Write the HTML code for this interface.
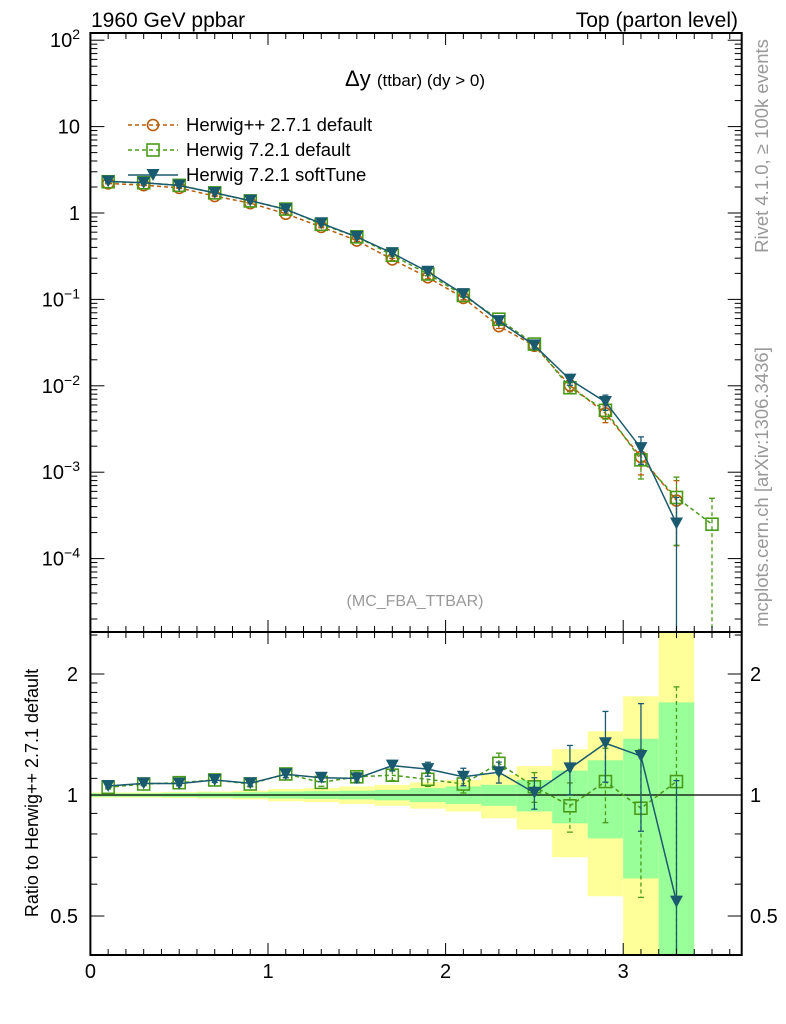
<!DOCTYPE html>
<html><head><meta charset="utf-8"><style>
html,body{margin:0;padding:0;background:#fff;}
svg{display:block;font-family:"Liberation Sans",sans-serif;}
</style></head><body>
<svg id="c" width="786" height="1024" viewBox="0 0 786 1024"></svg>
<script>
const binCenters=[0.1,0.3,0.5,0.7,0.9,1.1,1.3,1.5,1.7,1.9,2.1,2.3,2.5,2.7,2.9,3.1,3.3,3.5];
const refVals=[2.2,2.1,1.95,1.57,1.3,0.98,0.69,0.48,0.29,0.18,0.104,0.049,0.029,0.0101,0.0048,0.0015,0.00047,null];
const h7Vals=[2.30,2.24,2.09,1.71,1.38,1.11,0.74,0.53,0.325,0.197,0.111,0.059,0.0304,0.0095,0.0052,0.00139,0.00051,0.00025];
const stVals=[2.32,2.24,2.08,1.71,1.39,1.10,0.76,0.53,0.343,0.209,0.115,0.056,0.0294,0.0118,0.0065,0.0019,0.000255,null];
const h7Ratio=[1.045,1.065,1.073,1.09,1.065,1.128,1.075,1.11,1.12,1.094,1.065,1.199,1.048,0.94,1.08,0.927,1.08,null];
const stRatio=[1.053,1.069,1.067,1.09,1.07,1.126,1.104,1.10,1.183,1.16,1.11,1.139,1.013,1.165,1.345,1.25,0.543,null];
const refErr=[0.01,0.01,0.012,0.014,0.016,0.02,0.022,0.025,0.03,0.04,0.05,0.06,0.09,0.15,0.22,0.38,0.7,null];
const refErrOuter=[0.015,0.015,0.017,0.02,0.025,0.035,0.04,0.05,0.06,0.075,0.09,0.125,0.18,0.3,0.44,0.76,1.6,null];
const h7Err=[0.01,0.01,0.012,0.014,0.016,0.02,0.022,0.025,0.03,0.04,0.05,0.06,0.085,0.14,0.21,0.4,0.72,1.0];
const stErr=[0.01,0.01,0.012,0.014,0.016,0.02,0.022,0.025,0.03,0.04,0.05,0.06,0.09,0.14,0.2,0.35,1.0,null];
const mainTickLabels=[[2,"10","2"],[1,"10",""],[0,"1",""],[-1,"10","−1"],[-2,"10","−2"],[-3,"10","−3"],[-4,"10","−4"]];
const ratioTickLabels=["2","1","0.5"];
const ratioTickVals=[2,1,0.5];
const xTickLabels=["0","1","2","3"];

const NS="http://www.w3.org/2000/svg";
const svg=document.getElementById('c');
function el(t,a,p){const e=document.createElementNS(NS,t);for(const k in a)e.setAttribute(k,a[k]);(p||svg).appendChild(e);return e;}
const L=90.4,R=741.7,MT=33,MB=632,RT=632,RB=955;
const X0=90.4,XS=177.6;
const sx=v=>X0+v*XS;
const sy=v=>213-86.4*Math.log10(v);
const ry=v=>795-402*Math.log10(v);
const cH="#b85c0a",c7="#4a9a1a",cS="#1a5a6e";

const gBand=el('g',{});


binCenters.forEach((x,i)=>{
  if(refErr[i]==null)return;
  const x1=sx(x-0.1),x2=sx(x+0.1);
  const yo1=Math.max(RT,ry(1+refErrOuter[i])),yo2=Math.min(RB,ry(Math.max(1e-3,1-refErrOuter[i])));
  const b=el('rect',{x:x1,y:yo1,width:x2-x1,height:yo2-yo1,fill:"#ffff99"},gBand);
  
  
  const yi1=Math.max(RT,ry(1+refErr[i])),yi2=Math.min(RB,ry(Math.max(1e-3,1-refErr[i])));
  const g=el('rect',{x:x1,y:yi1,width:x2-x1,height:yi2-yi1,fill:"#99ff99"},gBand);
  
  
});
el('line',{x1:L,x2:R,y1:795,y2:795,stroke:"#000","stroke-width":1.3});

function marker(type,x,y,col,g){
  let m;
  if(type==='c')m=el('circle',{cx:x,cy:y,r:5.5,fill:"none",stroke:col,"stroke-width":1.6},g);
  else if(type==='s')m=el('rect',{x:x-6,y:y-6,width:12,height:12,fill:"none",stroke:col,"stroke-width":1.6},g);
  else m=el('path',{d:`M${x-6.5},${y-6} L${x+6.5},${y-6} L${x},${y+6} Z`,fill:col},g);
  
  
}
function series(vals,errs,yf,top,bot,col,dash,type,name){
  const g=el('g',{});
  
  
  const pts=[];
  binCenters.forEach((x,i)=>{
    const v=vals[i];if(v==null)return;
    const X=sx(x),Y=yf(v);pts.push([X,Y]);
    const e=errs[i];
    const yu=Math.max(top,yf(v*(1+e))),yl=(1-e)<=0.001?bot:Math.min(bot,yf(v*(1-e)));
    el('line',{x1:X,x2:X,y1:yu,y2:yl,stroke:col,"stroke-width":1.3,"stroke-dasharray":dash},g);
    el('line',{x1:X-3,x2:X+3,y1:yu,y2:yu,stroke:col,"stroke-width":1.3},g);
    if(yl<bot)el('line',{x1:X-3,x2:X+3,y1:yl,y2:yl,stroke:col,"stroke-width":1.3},g);
  });
  el('polyline',{points:pts.map(p=>p.join(',')).join(' '),fill:"none",stroke:col,"stroke-width":1.5,"stroke-dasharray":dash},g);
  pts.forEach(p=>marker(type,p[0],p[1],col,g));
}
series(refVals,refErr,sy,MT,MB,cH,"4,3",'c','herwigpp-series');
series(h7Vals,h7Err,sy,MT,MB,c7,"4,3",'s','herwig7-series');
series(stVals,stErr,sy,MT,MB,cS,"",'t','softtune-series');
series(h7Ratio,h7Err,ry,RT,RB,c7,"4,3",'s','herwig7-ratio');
series(stRatio,stErr,ry,RT,RB,cS,"",'t','softtune-ratio');

el('rect',{x:L,y:MT,width:R-L,height:MB-MT,fill:"none",stroke:"#000","stroke-width":2});
el('rect',{x:L,y:RT,width:R-L,height:RB-RT,fill:"none",stroke:"#000","stroke-width":2});
for(let k=0;k<=36;k++){
  const v=k/10,X=sx(v);if(X>R)break;
  const big=k%10==0,len=big?12:6;
  [MT,RT].forEach(t=>el('line',{x1:X,x2:X,y1:t,y2:t+len,stroke:"#000","stroke-width":1}));
  [MB,RB].forEach(b=>el('line',{x1:X,x2:X,y1:b,y2:b-len,stroke:"#000","stroke-width":1}));
}
xTickLabels.forEach((t,i)=>{const e=el('text',{x:sx(i),y:978,"font-size":20,"text-anchor":"middle"});e.textContent=t;
});
for(let d=-5;d<=2;d++){for(let m=1;m<10;m++){const v=m*Math.pow(10,d);const Y=sy(v);if(Y<MT||Y>MB)continue;
 const len=m==1?14:7;el('line',{x1:L,x2:L+len,y1:Y,y2:Y,stroke:"#000"});el('line',{x1:R,x2:R-len,y1:Y,y2:Y,stroke:"#000"});}}
mainTickLabels.forEach(t=>{const e=el('text',{x:80,y:sy(Math.pow(10,t[0]))+7,"font-size":20,"text-anchor":"end"});
 e.textContent=t[1];if(t[2]){const s=el('tspan',{dy:-8,"font-size":14},e);s.textContent=t[2];}
 });
[0.4,0.5,0.6,0.7,0.8,0.9,1,1.1,1.2,1.3,1.4,1.5,1.6,1.7,1.8,1.9,2,2.5].forEach(v=>{const Y=ry(v);if(Y<RT||Y>RB)return;
 const len=(v==1||v==2||v==0.5)?14:7;el('line',{x1:L,x2:L+len,y1:Y,y2:Y,stroke:"#000"});el('line',{x1:R,x2:R-len,y1:Y,y2:Y,stroke:"#000"});});
ratioTickLabels.forEach((t,i)=>{const Y=ry(ratioTickVals[i])+7;
 const a=el('text',{x:78,y:Y,"font-size":20,"text-anchor":"end"});a.textContent=t;
 
 const b=el('text',{x:750,y:Y,"font-size":20});b.textContent=t;
 });
const leg=[["Herwig++ 2.7.1 default",cH,"4,3",'c'],["Herwig 7.2.1 default",c7,"4,3",'s'],["Herwig 7.2.1 softTune",cS,"",'t']];
leg.forEach((l,i)=>{const Y=125+i*25;const g=el('g',{});
 
 el('line',{x1:128,x2:178,y1:Y,y2:Y,stroke:l[1],"stroke-width":1.5,"stroke-dasharray":l[2]},g);
 marker(l[3],153,Y,l[1],g);
 const t=el('text',{x:186,y:Y+6,"font-size":18.5},g);t.textContent=l[0];});
</script>
<svg width="786" height="1024" style="position:absolute;left:0;top:0" font-family="Liberation Sans, sans-serif">
<text x="91" y="27" font-size="21">1960 GeV ppbar</text>
<text x="738" y="27" font-size="21" text-anchor="end">Top (parton level)</text>
<text x="415" y="86" font-size="22" text-anchor="middle">Δy <tspan font-size="17">(ttbar) (dy &gt; 0)</tspan></text>
<text x="415" y="606" font-size="16" fill="#999" text-anchor="middle">(MC_FBA_TTBAR)</text>
<text transform="translate(768,146) rotate(-90)" font-size="18.5" fill="#999" text-anchor="middle">Rivet 4.1.0, ≥ 100k events</text>
<text transform="translate(768,487) rotate(-90)" font-size="18.5" fill="#999" text-anchor="middle">mcplots.cern.ch [arXiv:1306.3436]</text>
<text transform="translate(38,793) rotate(-90)" font-size="18" text-anchor="middle">Ratio to Herwig++ 2.7.1 default</text>
</svg>
</body></html>
